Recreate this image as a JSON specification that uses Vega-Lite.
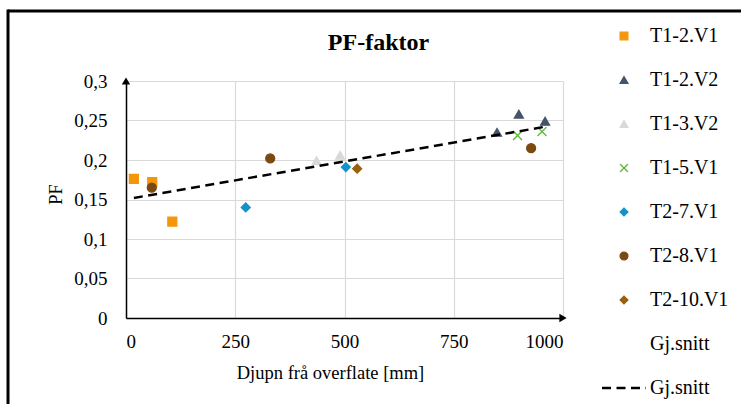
{
  "$schema": "https://vega.github.io/schema/vega-lite/v6.json",
  "width": 437,
  "height": 237,
  "autosize": {"type": "none"},
  "padding": {"left": 126, "top": 81, "right": 178, "bottom": 86},
  "background": "white",
  "config": {
    "font": "Liberation Serif",
    "view": {"stroke": null},
    "axis": {
      "gridColor": "#d9d9d9",
      "gridWidth": 1.2,
      "domainColor": "black",
      "domainWidth": 1.5,
      "ticks": false,
      "labelOverlap": false,
      "labelFont": "Liberation Serif",
      "labelFontSize": 19,
      "labelColor": "black",
      "titleFont": "Liberation Serif",
      "titleFontSize": 18.5,
      "titleFontWeight": "normal",
      "titleColor": "black"
    }
  },
  "resolve": {"axis": {"x": "independent", "y": "independent"}},
  "datasets": {
    "punkt": [
      {"serie": "T1-2.V1", "djupn": 18, "pf": 0.176},
      {"serie": "T1-2.V1", "djupn": 60, "pf": 0.172},
      {"serie": "T1-2.V1", "djupn": 106, "pf": 0.122},
      {"serie": "T1-2.V2", "djupn": 849, "pf": 0.235},
      {"serie": "T1-2.V2", "djupn": 899, "pf": 0.258},
      {"serie": "T1-2.V2", "djupn": 959, "pf": 0.249},
      {"serie": "T1-3.V2", "djupn": 436, "pf": 0.199},
      {"serie": "T1-3.V2", "djupn": 490, "pf": 0.206},
      {"serie": "T1-5.V1", "djupn": 896, "pf": 0.231},
      {"serie": "T1-5.V1", "djupn": 952, "pf": 0.236},
      {"serie": "T2-7.V1", "djupn": 274, "pf": 0.14},
      {"serie": "T2-7.V1", "djupn": 503, "pf": 0.191},
      {"serie": "T2-8.V1", "djupn": 59, "pf": 0.165},
      {"serie": "T2-8.V1", "djupn": 330, "pf": 0.202},
      {"serie": "T2-8.V1", "djupn": 927, "pf": 0.215},
      {"serie": "T2-10.V1", "djupn": 529, "pf": 0.189}
    ],
    "trend": [
      {"serie": "Gj.snitt (trend)", "djupn": 18, "pf": 0.152},
      {"serie": "Gj.snitt (trend)", "djupn": 959, "pf": 0.2421}
    ],
    "ein": [{"k": 1}]
  },
  "layer": [
    {
      "data": {"name": "ein"},
      "mark": {"type": "rule", "color": "black", "strokeWidth": 3},
      "encoding": {
        "x": {
          "datum": -270, "type": "quantitative", "scale": {"domain": [0, 1000], "nice": false},
          "axis": {
            "orient": "top", "title": "PF-faktor", "labels": false, "domain": false, "grid": false, "ticks": false,
            "titleFontSize": 24, "titleFontWeight": "bold", "titleColor": "black",
            "titleX": 252, "titleY": -32, "titleAlign": "center", "titleBaseline": "alphabetic", "titleAngle": 0
          }
        },
        "x2": {"datum": 1420},
        "y": {"datum": 0.3886, "type": "quantitative", "scale": {"domain": [0, 0.3], "nice": false}, "axis": null}
      }
    },
    {
      "data": {"name": "ein"},
      "mark": {"type": "rule", "color": "black", "strokeWidth": 3},
      "encoding": {
        "x": {"datum": -270, "type": "quantitative", "scale": {"domain": [0, 1000], "nice": false}, "axis": null},
        "y": {"datum": 0.3905, "type": "quantitative", "scale": {"domain": [0, 0.3], "nice": false}, "axis": null},
        "y2": {"datum": -0.15}
      }
    },
    {
      "data": {"name": "punkt"},
      "mark": {"type": "point", "filled": true, "opacity": 1, "strokeWidth": 1.3, "size": 80},
      "encoding": {
        "x": {
          "field": "djupn", "type": "quantitative",
          "scale": {"domain": [0, 1000], "nice": false},
          "axis": {"title": "Djupn frå overflate [mm]", "grid": true, "values": [0, 250, 500, 750, 1000], "format": "d", "labelPadding": 14, "titlePadding": 12, "titleX": 204, "titleAlign": "center"}
        },
        "y": {
          "field": "pf", "type": "quantitative",
          "scale": {"domain": [0, 0.3], "nice": false},
          "axis": {
            "title": "PF",
            "grid": true,
            "values": [0, 0.05, 0.1, 0.15, 0.2, 0.25, 0.3],
            "labelExpr": "replace(format(datum.value, '.2~f'), '.', ',')",
            "labelPadding": 19,
            "titleX": -71,
            "titleY": 113,
            "titleBaseline": "middle",
            "titleAngle": -90
          }
        },
        "fill": {
          "field": "serie", "type": "nominal",
          "scale": {
            "domain": ["T1-2.V1", "T1-2.V2", "T1-3.V2", "T1-5.V1", "T2-7.V1", "T2-8.V1", "T2-10.V1", "Gj.snitt", "Gj.snitt (trend)"],
            "range": ["#f4960c", "#44546a", "#d9d9d9", "#5cb535", "#1193c9", "#7b4a12", "#99600f", "transparent", "transparent"]
          },
          "legend": {
            "orient": "none", "legendX": 488, "legendY": -55, "title": null,
            "labelFont": "Liberation Serif", "labelFontSize": 20, "labelColor": "black",
            "labelExpr": "datum.label === 'Gj.snitt (trend)' ? 'Gj.snitt' : datum.label",
            "symbolSize": 1936, "labelOffset": 16, "rowPadding": 24,
            "encode": {"symbols": {"update": {
              "size": {"signal": "datum.value === 'Gj.snitt (trend)' ? 1936 : 60"},
              "strokeWidth": {"signal": "datum.value === 'Gj.snitt (trend)' ? 2.5 : 1.3"}
            }}}
          }
        },
        "stroke": {
          "field": "serie", "type": "nominal",
          "scale": {
            "domain": ["T1-2.V1", "T1-2.V2", "T1-3.V2", "T1-5.V1", "T2-7.V1", "T2-8.V1", "T2-10.V1", "Gj.snitt", "Gj.snitt (trend)"],
            "range": ["#f4960c", "#44546a", "#d9d9d9", "#5cb535", "#1193c9", "#7b4a12", "#99600f", "transparent", "black"]
          },
          "legend": {
            "orient": "none", "legendX": 488, "legendY": -55, "title": null,
            "labelFont": "Liberation Serif", "labelFontSize": 20, "labelColor": "black",
            "labelExpr": "datum.label === 'Gj.snitt (trend)' ? 'Gj.snitt' : datum.label",
            "symbolSize": 1936, "labelOffset": 16, "rowPadding": 24,
            "encode": {"symbols": {"update": {
              "size": {"signal": "datum.value === 'Gj.snitt (trend)' ? 1936 : 60"},
              "strokeWidth": {"signal": "datum.value === 'Gj.snitt (trend)' ? 2.5 : 1.3"}
            }}}
          }
        },
        "shape": {
          "field": "serie", "type": "nominal",
          "scale": {
            "domain": ["T1-2.V1", "T1-2.V2", "T1-3.V2", "T1-5.V1", "T2-7.V1", "T2-8.V1", "T2-10.V1", "Gj.snitt", "Gj.snitt (trend)"],
            "range": ["square", "triangle-up", "triangle-up", "M-1,-1L1,1M-1,1L1,-1", "diamond", "circle", "diamond", "circle", "stroke"]
          },
          "legend": {
            "orient": "none", "legendX": 488, "legendY": -55, "title": null,
            "labelFont": "Liberation Serif", "labelFontSize": 20, "labelColor": "black",
            "labelExpr": "datum.label === 'Gj.snitt (trend)' ? 'Gj.snitt' : datum.label",
            "symbolSize": 1936, "labelOffset": 16, "rowPadding": 24,
            "encode": {"symbols": {"update": {
              "size": {"signal": "datum.value === 'Gj.snitt (trend)' ? 1936 : 60"},
              "strokeWidth": {"signal": "datum.value === 'Gj.snitt (trend)' ? 2.5 : 1.3"}
            }}}
          }
        }
      }
    },
    {
      "data": {"name": "trend"},
      "mark": {"type": "line", "strokeWidth": 2.5},
      "encoding": {
        "x": {"field": "djupn", "type": "quantitative", "scale": {"domain": [0, 1000], "nice": false}, "axis": null},
        "y": {"field": "pf", "type": "quantitative", "scale": {"domain": [0, 0.3], "nice": false}, "axis": null},
        "stroke": {
          "field": "serie", "type": "nominal",
          "scale": {
            "domain": ["T1-2.V1", "T1-2.V2", "T1-3.V2", "T1-5.V1", "T2-7.V1", "T2-8.V1", "T2-10.V1", "Gj.snitt", "Gj.snitt (trend)"],
            "range": ["#f4960c", "#44546a", "#d9d9d9", "#5cb535", "#1193c9", "#7b4a12", "#99600f", "transparent", "black"]
          }
        },
        "strokeDash": {
          "field": "serie", "type": "nominal",
          "scale": {
            "domain": ["T1-2.V1", "T1-2.V2", "T1-3.V2", "T1-5.V1", "T2-7.V1", "T2-8.V1", "T2-10.V1", "Gj.snitt", "Gj.snitt (trend)"],
            "range": [[1, 0], [1, 0], [1, 0], [1, 0], [1, 0], [1, 0], [1, 0], [1, 0], [9, 5.5]]
          },
          "legend": {
            "orient": "none", "legendX": 488, "legendY": -55, "title": null,
            "labelFont": "Liberation Serif", "labelFontSize": 20, "labelColor": "black",
            "labelExpr": "datum.label === 'Gj.snitt (trend)' ? 'Gj.snitt' : datum.label",
            "symbolSize": 1936, "labelOffset": 16, "rowPadding": 24,
            "encode": {"symbols": {"update": {
              "size": {"signal": "datum.value === 'Gj.snitt (trend)' ? 1936 : 60"},
              "strokeWidth": {"signal": "datum.value === 'Gj.snitt (trend)' ? 2.5 : 1.3"}
            }}}
          }
        }
      }
    },
    {
      "data": {"name": "ein"},
      "mark": {"type": "point", "filled": true, "color": "black", "opacity": 1, "shape": "triangle-up", "size": 70},
      "encoding": {
        "x": {"datum": 0, "type": "quantitative", "scale": {"domain": [0, 1000], "nice": false}, "axis": null},
        "y": {"datum": 0.3, "type": "quantitative", "scale": {"domain": [0, 0.3], "nice": false}, "axis": null}
      }
    },
    {
      "data": {"name": "ein"},
      "mark": {"type": "point", "filled": true, "color": "black", "opacity": 1, "shape": "triangle-right", "size": 70},
      "encoding": {
        "x": {"datum": 1000, "type": "quantitative", "scale": {"domain": [0, 1000], "nice": false}, "axis": null},
        "y": {"datum": 0, "type": "quantitative", "scale": {"domain": [0, 0.3], "nice": false}, "axis": null}
      }
    }
  ]
}
